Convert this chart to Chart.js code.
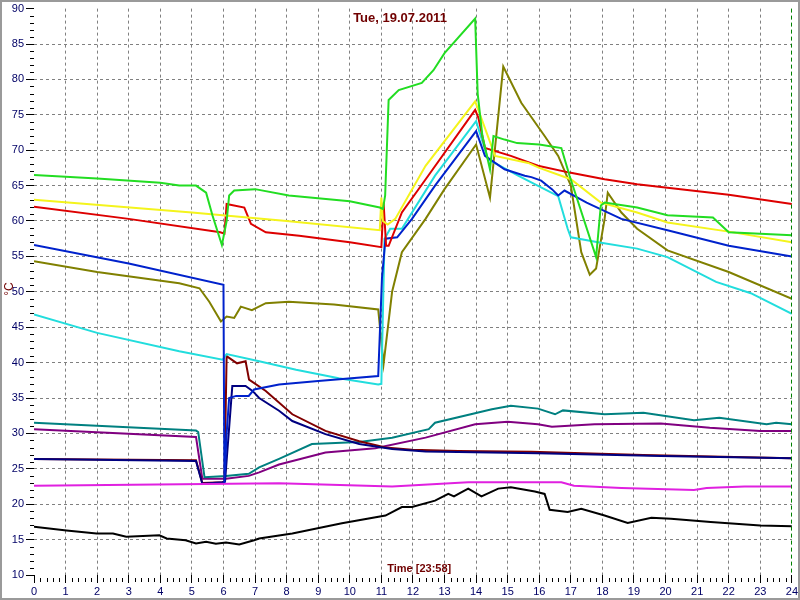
<!DOCTYPE html>
<html>
<head>
<meta charset="utf-8">
<script src="https://cdn.jsdelivr.net/npm/chart.js@4/dist/chart.umd.min.js"></script>
<style>
  html, body { margin: 0; padding: 0; background: #fff; }
  #wrap { width: 800px; height: 600px; }
</style>
</head>
<body>
<div id="wrap"><canvas id="chart" width="800" height="600"></canvas></div>
<script>
// chart texts
const titleText = 'Tue, 19.07.2011';
const timeText = 'Time [23:58]';
const unitText = '°C';
const nowHour = 23 + 58 / 60;

// series: hours + °C values
const greenT = [0, 2, 4, 4.6, 5.13, 5.45, 5.65, 5.95, 6.1, 6.18, 6.34, 7.0, 8.07, 10.0, 10.95, 11.05, 11.12, 11.23, 11.55, 12.28, 12.65, 13.0, 13.97, 14.05, 14.2, 14.44, 14.55, 14.9, 15.3, 16.0, 16.7, 16.96, 17.8, 17.95, 18.07, 19.1, 20.06, 21.5, 22.0, 23.0, 24];
const greenV = [66.5, 66, 65.4, 65, 65, 64, 60.8, 56.6, 60, 63.6, 64.3, 64.5, 63.6, 62.8, 61.9, 61.7, 63.6, 77.1, 78.5, 79.5, 81.3, 83.7, 88.6, 78, 72, 67.3, 72, 71.5, 71, 70.8, 70.3, 66.4, 54.9, 62.2, 62.6, 61.9, 60.8, 60.5, 58.4, 58.2, 58];

const yellowT = [0, 5, 8, 10.95, 11.0, 11.05, 11.2, 11.44, 12.4, 13.97, 14.07, 14.6, 15.65, 16.0, 17.0, 17.95, 19.1, 20.06, 22, 24];
const yellowV = [63, 61.2, 60, 58.7, 63.3, 60, 59.5, 60.3, 67.8, 76.9, 75.7, 69.2, 68.2, 67.5, 65.9, 62.6, 61.2, 59.8, 58.5, 57];

const redT = [0, 3, 5.9, 6.03, 6.1, 6.66, 6.87, 7.34, 8.4, 10, 11.0, 11.07, 11.15, 11.23, 11.65, 12.5, 13.97, 14.07, 14.28, 15.1, 15.96, 17, 18.07, 19.1, 20.06, 22, 24];
const redV = [62, 60.3, 58.4, 58.2, 62.4, 61.9, 59.6, 58.4, 57.9, 57, 56.3, 62.6, 56.5, 56.5, 61.2, 66.5, 75.7, 74.6, 70.3, 69.2, 67.8, 66.8, 65.9, 65.2, 64.7, 63.7, 62.4];

const blueT = [0, 3, 6.0, 6.03, 6.1, 6.18, 6.4, 6.8, 6.97, 7.76, 9, 10.9, 11.02, 11.13, 11.5, 11.97, 12.7, 14.0, 14.28, 14.9, 15.54, 15.75, 16.06, 16.4, 16.6, 16.8, 17.5, 18.6, 20.06, 22, 24];
const blueV = [56.6, 54, 51, 23, 30, 35, 35.3, 35.3, 36.2, 36.9, 37.4, 38.1, 52, 57.5, 57.7, 60.3, 65, 72.7, 69.2, 67.3, 66.4, 66.2, 65.7, 64.5, 63.6, 64.3, 62.6, 60.3, 58.7, 56.5, 55];

const cyanT = [0, 2, 4.6, 5.97, 6.1, 7.13, 8.3, 9.65, 10.9, 11.0, 11.1, 11.28, 11.65, 12.7, 14.0, 14.38, 15.33, 16.6, 16.9, 17.0, 17.86, 19.1, 20.06, 21.6, 22.7, 24];
const cyanV = [46.8, 44.2, 41.6, 40.4, 41.2, 40.2, 39, 37.8, 36.9, 37, 57.5, 58.9, 58.9, 66.4, 74.1, 68.7, 66.4, 63.5, 58.9, 57.7, 57, 56.1, 54.9, 51.4, 49.8, 46.9];

const oliveT = [0, 2, 4.6, 5.24, 5.55, 5.92, 6.1, 6.34, 6.55, 6.9, 7.34, 8.07, 9.5, 10.9, 11.07, 11.34, 11.65, 12.4, 13.0, 14.0, 14.44, 14.86, 15.43, 16.17, 16.6, 17.0, 17.33, 17.6, 17.8, 18.07, 18.17, 18.6, 19.1, 20.06, 22, 24];
const oliveV = [54.3, 52.8, 51.2, 50.5, 48.6, 45.8, 46.5, 46.3, 47.9, 47.4, 48.4, 48.6, 48.2, 47.5, 39.8, 50, 55.6, 60.3, 64.5, 70.8, 63.3, 81.8, 76.7, 72, 69.2, 65, 55.6, 52.4, 53.3, 60.3, 64, 61.2, 58.9, 55.85, 52.8, 49];

const navyT = [0, 5.13, 5.33, 5.97, 6.05, 6.28, 6.7, 6.92, 7.13, 7.76, 8.18, 9.23, 10.3, 11.34, 12.4, 15.96, 19.85, 24];
const navyV = [26.4, 26.1, 22.9, 23.1, 23.2, 36.7, 36.7, 36, 35, 33.2, 31.75, 29.9, 28.5, 27.8, 27.45, 27.2, 26.8, 26.5];

const maroonT = [0, 5.13, 5.33, 5.97, 6.03, 6.1, 6.43, 6.7, 6.81, 7.34, 8.18, 9.23, 10.3, 11.13, 11.97, 13.44, 15.75, 19.3, 24];
const maroonV = [26.4, 26.2, 23.0, 23.1, 23.2, 40.9, 39.9, 40.2, 37.6, 36, 32.7, 30.35, 28.9, 28, 27.7, 27.5, 27.4, 26.95, 26.5];

const tealT = [0, 5.13, 5.2, 5.4, 6.08, 6.8, 7.13, 7.76, 8.8, 10.3, 11.34, 12.5, 12.7, 14.5, 15.1, 15.96, 16.5, 16.75, 18.07, 19.3, 20.9, 21.7, 23.2, 23.5, 24];
const tealV = [31.5, 30.4, 30.2, 23.8, 24, 24.3, 25.2, 26.4, 28.5, 28.8, 29.4, 30.6, 31.5, 33.4, 33.9, 33.5, 32.7, 33.25, 32.7, 32.9, 31.85, 32.2, 31.3, 31.5, 31.3];

const purpleT = [0, 5.13, 5.33, 6.08, 6.8, 7.13, 7.76, 9.23, 10.81, 12.4, 13.97, 15.0, 15.96, 16.4, 17.75, 19.85, 21.4, 23.0, 24];
const purpleV = [30.6, 29.5, 23.6, 23.6, 24.0, 24.5, 25.6, 27.3, 27.9, 29.4, 31.3, 31.65, 31.3, 30.95, 31.3, 31.4, 30.8, 30.35, 30.35];

const magentaT = [0, 7.76, 11.34, 13.75, 16.7, 17.1, 18.6, 20.9, 21.3, 22.5, 24];
const magentaV = [22.6, 22.96, 22.5, 23.1, 23.1, 22.6, 22.3, 22.0, 22.3, 22.5, 22.5];

const blackT = [0, 1.03, 1.98, 2.5, 2.92, 3.97, 4.2, 4.8, 5.13, 5.45, 5.76, 6.08, 6.5, 6.97, 7.13, 8.18, 9.75, 11.13, 11.65, 11.97, 12.7, 13.12, 13.3, 13.5, 13.75, 14.17, 14.7, 15.1, 15.86, 16.17, 16.33, 16.9, 17.33, 18.07, 18.8, 19.55, 20.17, 21.43, 23.0, 24];
const blackV = [16.8, 16.3, 15.85, 15.85, 15.4, 15.6, 15.15, 14.9, 14.45, 14.7, 14.4, 14.6, 14.3, 14.9, 15.15, 15.85, 17.3, 18.4, 19.6, 19.6, 20.5, 21.45, 21.1, 21.6, 22.2, 21.1, 22.2, 22.4, 21.8, 21.45, 19.2, 18.9, 19.35, 18.4, 17.35, 18.1, 17.95, 17.5, 17.0, 16.9];

// first entry is drawn on top
const series = [
  ['green', greenT, greenV, '#22dd22'],
  ['yellow', yellowT, yellowV, '#f4f41c'],
  ['red', redT, redV, '#dd0000'],
  ['blue', blueT, blueV, '#0022cc'],
  ['cyan', cyanT, cyanV, '#22dddd'],
  ['olive', oliveT, oliveV, '#808000'],
  ['black', blackT, blackV, '#000000'],
  ['magenta', magentaT, magentaV, '#e020e0'],
  ['navy', navyT, navyV, '#000080'],
  ['maroon', maroonT, maroonV, '#800000'],
  ['teal', tealT, tealV, '#008080'],
  ['purple', purpleT, purpleV, '#800080']
];

const datasets = series.map(([name, t, v, col]) => ({
  label: name,
  data: t.map((h, i) => ({ x: h, y: v[i] })),
  borderColor: col,
  backgroundColor: col,
  borderWidth: 2,
  pointRadius: 0,
  tension: 0,
  fill: false
}));

const labelColor = '#000066';
const darkRed = '#700000';

// minor ticks, captions, "now" marker and the frame
const extras = {
  id: 'extras',
  afterDraw(chart) {
    const { ctx, chartArea: a, scales: { x, y } } = chart;
    ctx.save();
    ctx.strokeStyle = '#000';
    ctx.lineWidth = 1;
    ctx.beginPath();
    for (let i = 10; i <= 90; i++) {
      if (i % 5 === 0) continue;
      const py = Math.round(y.getPixelForValue(i)) + 0.5;
      ctx.moveTo(a.left - 4, py);
      ctx.lineTo(a.left, py);
    }
    for (let i = 0; i <= 120; i++) {
      if (i % 5 === 0) continue;
      const px = Math.round(x.getPixelForValue(i / 5)) + 0.5;
      ctx.moveTo(px, a.bottom + 3);
      ctx.lineTo(px, a.bottom + 7);
    }
    ctx.stroke();

    // current time marker
    const nx = Math.round(x.getPixelForValue(nowHour)) + 0.5;
    ctx.strokeStyle = '#008000';
    ctx.setLineDash([4, 3]);
    ctx.beginPath();
    ctx.moveTo(nx, a.top);
    ctx.lineTo(nx, a.bottom);
    ctx.stroke();
    ctx.setLineDash([]);

    ctx.fillStyle = darkRed;
    ctx.textAlign = 'center';
    ctx.textBaseline = 'middle';
    ctx.font = 'bold 13px "Liberation Sans", Arial, sans-serif';
    ctx.fillText(titleText, chart.width / 2, 18);
    ctx.font = 'bold 11px "Liberation Sans", Arial, sans-serif';
    ctx.fillText(timeText, x.getPixelForValue(12.2), a.bottom - 6);

    ctx.translate(10, 289);
    ctx.rotate(-Math.PI / 2);
    ctx.font = '12px "Liberation Sans", Arial, sans-serif';
    ctx.fillText(unitText, 0, 0);
    ctx.restore();

    ctx.save();
    ctx.strokeStyle = '#9a9a9a';
    ctx.lineWidth = 2;
    ctx.strokeRect(1, 1, chart.width - 2, chart.height - 2);
    ctx.restore();
  }
};

const hideEdge = (lo, hi) => c => (c.tick && (c.tick.value === lo || c.tick.value === hi)) ? 'rgba(0,0,0,0)' : '#808080';

new Chart(document.getElementById('chart'), {
  type: 'line',
  data: { datasets },
  options: {
    responsive: false,
    animation: false,
    parsing: true,
    layout: { padding: { top: 5, right: 5, left: 0, bottom: 0 } },
    plugins: { legend: { display: false }, tooltip: { enabled: false } },
    scales: {
      x: {
        type: 'linear',
        min: 0,
        max: 24,
        afterFit: s => { s.height = 25; },
        ticks: {
          stepSize: 1,
          autoSkip: false,
          maxRotation: 0,
          padding: 2,
          color: labelColor,
          font: { family: '"Liberation Sans", Arial, sans-serif', size: 11 }
        },
        grid: { color: hideEdge(0, 24), tickColor: '#000', tickLength: 8, lineWidth: 1 },
        border: { display: false, dash: [3, 3] }
      },
      y: {
        min: 10,
        max: 90,
        afterFit: s => { s.width = 34; },
        ticks: {
          stepSize: 5,
          padding: 2,
          color: labelColor,
          font: { family: '"Liberation Sans", Arial, sans-serif', size: 11 }
        },
        grid: { color: hideEdge(10, 90), tickColor: '#000', tickLength: 8, lineWidth: 1 },
        border: { display: false, dash: [3, 3] }
      }
    }
  },
  plugins: [extras]
});
</script>
</body>
</html>
